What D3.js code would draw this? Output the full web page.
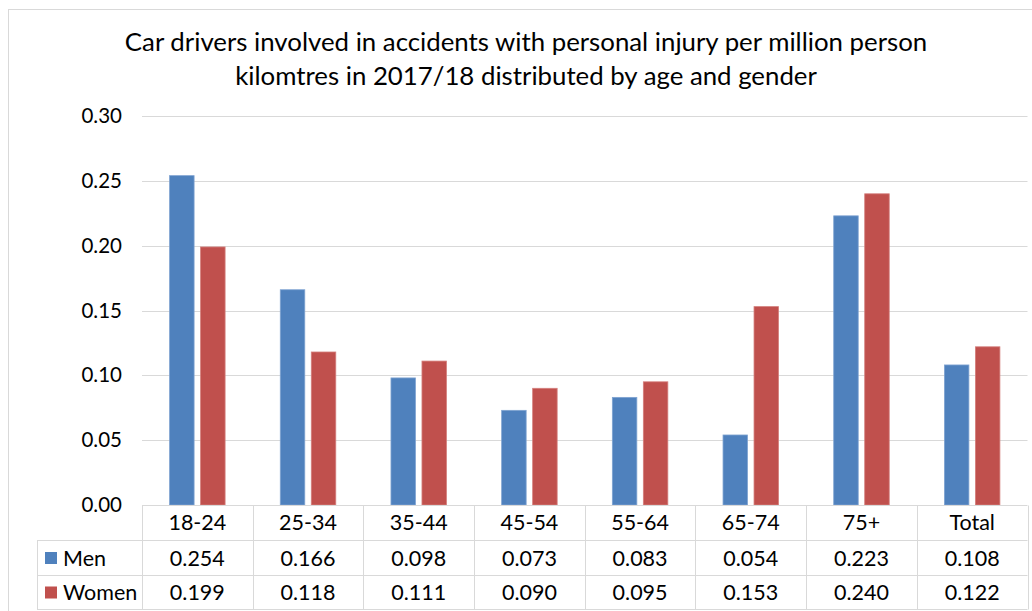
<!DOCTYPE html>
<html>
<head>
<meta charset="utf-8">
<script src="https://cdn.jsdelivr.net/npm/d3@7"></script>
<style>
  html, body { margin: 0; padding: 0; background: #fff; }
  svg { display: block; }
  text { font-family: Lato, "Open Sans", sans-serif; fill: #000; }
</style>
</head>
<body>
<svg id="chart" width="1032" height="611"></svg>
<script>
// Age groups and rates of involvement per million person kilometres
const categories = ["18-24", "25-34", "35-44", "45-54", "55-64", "65-74", "75+", "Total"];
const men   = [0.254, 0.166, 0.098, 0.073, 0.083, 0.054, 0.223, 0.108];
const women = [0.199, 0.118, 0.111, 0.090, 0.095, 0.153, 0.240, 0.122];
const seriesNames = ["Men", "Women"];
const seriesColors = ["#4F81BD", "#C0504D"];
const seriesStroke = ["#7FA3D1", "#D47F7C"];
const yTicks = [0, 0.05, 0.10, 0.15, 0.20, 0.25, 0.30];
const titleLines = [
  "Car drivers involved in accidents with personal injury per million person",
  "kilomtres in 2017/18 distributed by age and gender"
];

const svg = d3.select("#chart");
const gridColor = "#d9d9d9";

// chart frame
svg.append("rect")
  .attr("x", 8.5).attr("y", 9.5)
  .attr("width", 1030).attr("height", 610)
  .attr("fill", "none").attr("stroke", gridColor);

const plot = { left: 142, right: 1027.5, top: 116, bottom: 505 };

const x = d3.scaleBand().domain(categories).range([plot.left, plot.right]);
const y = d3.scaleLinear().domain([0, 0.30]).range([plot.bottom, plot.top]);

// title
svg.append("g").selectAll("text").data(titleLines).join("text")
  .attr("x", 526).attr("y", (d, i) => 51 + i * 34)
  .attr("text-anchor", "middle")
  .style("font-size", "25.8px")
  .text(d => d);

// horizontal gridlines
svg.append("g").selectAll("line").data(yTicks.slice(1)).join("line")
  .attr("x1", plot.left).attr("x2", plot.right)
  .attr("y1", d => Math.round(y(d)) + 0.5).attr("y2", d => Math.round(y(d)) + 0.5)
  .attr("stroke", gridColor).attr("stroke-width", 1);

// y axis labels
const yAxis = d3.axisLeft(y).tickValues(yTicks).tickFormat(d3.format(".2f")).tickSize(0).tickPadding(20);
const yg = svg.append("g").attr("transform", `translate(${plot.left},0)`).call(yAxis);
yg.select(".domain").remove();
yg.selectAll("text").style("font-size", "20.5px").style("font-family", "Lato, 'Open Sans', sans-serif").attr("fill", "#000");

// bars
const barW = 24.5, gap = 6.5;
const series = [men, women];
series.forEach((vals, si) => {
  svg.append("g").selectAll("rect").data(vals).join("rect")
    .attr("x", (d, i) => x(categories[i]) + x.bandwidth() / 2 - gap / 2 - barW + si * (barW + gap))
    .attr("y", d => y(d))
    .attr("width", barW)
    .attr("height", d => y(0) - y(d))
    .attr("fill", seriesColors[si])
    .attr("stroke", seriesStroke[si]).attr("stroke-width", 0.8);
});

// data table
const rows = [
  { top: 505, bottom: 540.5 },
  { top: 540.5, bottom: 575.5 },
  { top: 575.5, bottom: 609.5 }
];
const tableLeft = 37;
const tg = svg.append("g");

// horizontal table lines
tg.append("line").attr("x1", plot.left).attr("x2", plot.right).attr("y1", 505.5).attr("y2", 505.5).attr("stroke", gridColor);
[540.5, 575.5, 609.5].forEach(yy => {
  tg.append("line").attr("x1", tableLeft).attr("x2", plot.right).attr("y1", yy).attr("y2", yy).attr("stroke", gridColor);
});
// vertical table lines
tg.append("line").attr("x1", tableLeft + 0.5).attr("x2", tableLeft + 0.5).attr("y1", 540.5).attr("y2", 609.5).attr("stroke", gridColor);
categories.concat(["end"]).forEach((c, i) => {
  const xx = Math.round(plot.left + i * x.bandwidth()) + 0.5;
  tg.append("line").attr("x1", xx).attr("x2", xx).attr("y1", 505.5).attr("y2", 609.5).attr("stroke", gridColor);
});

// category row
tg.selectAll("text.cat").data(categories).join("text").attr("class", "cat")
  .attr("x", d => x(d) + x.bandwidth() / 2)
  .attr("y", (rows[0].top + rows[0].bottom) / 2)
  .attr("dy", "0.35em").attr("text-anchor", "middle")
  .style("font-size", "21.5px").text(d => d);

// series rows
series.forEach((vals, si) => {
  const r = rows[si + 1];
  const cy = (r.top + r.bottom) / 2;
  tg.append("rect").attr("x", 45).attr("y", cy - 6).attr("width", 12).attr("height", 12).attr("fill", seriesColors[si]);
  tg.append("text").attr("x", 63).attr("y", cy).attr("dy", "0.35em")
    .style("font-size", "21.5px").text(seriesNames[si]);
  tg.selectAll(null).data(vals).join("text")
    .attr("x", (d, i) => x(categories[i]) + x.bandwidth() / 2)
    .attr("y", cy).attr("dy", "0.35em").attr("text-anchor", "middle")
    .style("font-size", "21.5px").text(d => d3.format(".3f")(d));
});
</script>
</body>
</html>
